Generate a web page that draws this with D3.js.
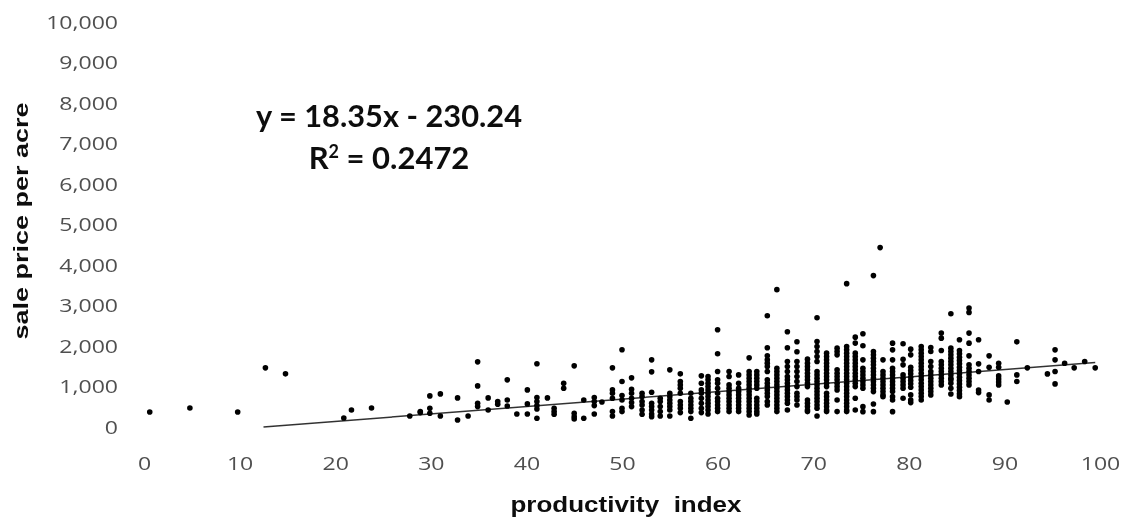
<!DOCTYPE html>
<html><head><meta charset="utf-8">
<script src="https://cdn.jsdelivr.net/npm/d3@7"></script>
<style>html,body{margin:0;padding:0;background:#fff}svg{display:block}</style>
</head><body><svg id="c" width="1130" height="519"></svg>
<script>
const xTicks=[0,10,20,30,40,50,60,70,80,90,100];
const yTicks=[0,1000,2000,3000,4000,5000,6000,7000,8000,9000,10000];
const trendX=[12.5,99.5];
const trendY=[0,1595];
const xTitle="productivity  index";
const yTitle="sale price per acre";
const eqLine1="y = 18.35x - 230.24";
const columnX=[0.6,4.8,9.8,12.7,14.8,20.9,21.7,23.8,27.8,28.9,29.9,31.0,32.8,33.9,34.9,36.0,37.0,38.0,39.0,40.1,41.1,42.2,42.9,43.9,45.0,46.0,47.1,47.9,49.0,50.0,51.0,52.1,53.1,54.0,55.0,56.1,57.2,58.3,59.0,60.0,61.2,62.2,63.3,64.1,65.2,66.2,67.3,68.3,69.4,70.4,71.4,72.5,73.5,74.4,75.2,76.3,77.0,77.3,78.3,79.4,80.2,81.3,82.3,83.4,84.4,85.3,86.3,87.3,88.4,89.4,90.3,91.3,92.4,94.5,95.3,96.3,97.3,98.4,99.5];
const columnValues=[
[371],[470],[371],[1460],[1312],[223],[421],[470],
[272],[355,380],[768,462,339],[817,272],[718,174],[272],[1609,1015,586,504],[718,421],[627,561],[1164,668,520],[322],[916,570,322],
[1560,726,627,528,446,215],[718],[462,380,314],[1081,957],[1510,339,256,198],[668,215],[726,627,528,322],[619],
[1460,916,834,710,380,272],[1906,1122,776,668,462,380],[1213,932,834,710,602,504],[834,751,627,545,421,314],
[1658,1362,858,586,504,421,322,256],[710,627,504,380,272],[1411,834,751,668,586,504,421,272],
[1312,1122,1040,957,834,627,545,462,355],[834,710,627,545,462,380,215],[1263,1081,916,834,710,586,462,355],
[1246,1164,1081,998,916,834,751,668,586,504,421,322],
[2401,1807,1370,1164,1081,957,834,710,627,545,462,380],
[1370,1246,1040,957,875,792,710,627,545,462,380],
[1287,1081,957,875,792,710,627,545,462,380],
[1708,1370,1287,1205,1122,1040,957,875,792,710,627,545,462,380,297],
[1370,1287,1205,1122,1040,957,710,627,545,462,380,322],
[2747,1956,1758,1658,1576,1494,1370,1164,1081,998,916,834,751,627,545],
[3391,1452,1370,1287,1205,1122,1040,957,875,792,710,627,545,462,380],
[2351,1956,1618,1494,1370,1246,1164,1081,998,916,834,751,668,586,421],
[2104,1857,1618,1494,1370,1246,1122,998,834,751,668,545],
[1675,1576,1494,1411,1329,1246,1164,1081,998,668,586,504,421,380],
[2698,2112,1988,1865,1741,1618,1370,1287,1205,1122,1040,957,875,792,710,627,545,462,272],
[1823,1741,1658,1576,1494,1411,1329,1246,1164,1081,998,834,751,668,586,504,421,380],
[1947,1865,1782,1411,1329,1246,1164,1081,998,916,668,380],
[3540,1988,1906,1823,1741,1658,1576,1494,1411,1329,1246,1164,1081,998,916,834,751,668,586,504,421,380],
[2219,2071,1823,1741,1658,1576,1494,1411,1329,1246,1164,1081,998,710,421],
[2302,2005,1658,1452,1370,1287,1205,1122,1040,957,503,379],
[3738,1865,1782,1700,1617,1535,1452,1370,1287,1205,1122,1040,957,874,569,379],
[4430],
[1658,1369,1287,1205,1122,1040,957,875,792,750],
[2070,1905,1658,1452,1370,1287,1205,1122,1040,957,875,750,668,379],
[2054,1674,1534,1287,1205,1122,1040,957,709],
[1922,1782,1477,1395,1312,1230,1147,1065,982,792,668,602],
[1988,1906,1823,1741,1658,1576,1494,1411,1329,1246,1164,1081,998,916,834,751,668],
[1963,1864,1617,1493,1369,1287,1205,1122,1040,957,875,792],
[2318,2194,1889,1617,1535,1452,1370,1287,1205,1122,1040],
[2796,1947,1865,1782,1700,1617,1535,1452,1370,1287,1205,1163,1080,957,816],
[2153,1889,1807,1724,1642,1559,1477,1394,1312,1229,1147,1064,982,899,817,750],
[2937,2830,2318,2070,1757,1534,1452,1370,1287,1205,1122,1040],
[2153,1559,1369,915,850],[1757,1477,792,668],[1575,1477,1262,1188,1113,1039],[618],[2103,1287,1122],[1460],[1311],
[1905,1658,1369,1064],[1575],[1460],[1617],[1460]
];

const svg=d3.select("#c");
const defs=svg.append("defs");
defs.append("filter").attr("id","soft").attr("x","0").attr("y","0").attr("width","100%").attr("height","100%")
  .append("feGaussianBlur").attr("stdDeviation",0.45);
const root=svg.append("g").attr("filter","url(#soft)");
const x=d3.scaleLinear().domain([0,100]).range([144,1100]);
const y=d3.scaleLinear().domain([0,10000]).range([427,22]);

const tickFont="'Open Sans',sans-serif";
const xAxis=root.append("g").attr("transform","translate(0,427)")
  .call(d3.axisBottom(x).tickValues(xTicks).tickSize(0).tickPadding(43).tickFormat(d3.format("d")));
const yAxis=root.append("g").attr("transform","translate(118,0)")
  .call(d3.axisLeft(y).tickValues(yTicks).tickSize(0).tickPadding(0).tickFormat(d3.format(",")));
[xAxis,yAxis].forEach(a=>{a.select(".domain").remove();
  a.selectAll("text").attr("font-family",tickFont).attr("font-size",18).attr("fill","#505050");});
yAxis.selectAll("text").attr("dy","0.36em").each(function(d){
  const t=d3.select(this);const w=this.getComputedTextLength();t.attr("textLength",w*1.28).attr("lengthAdjust","spacingAndGlyphs");});
xAxis.selectAll("text").attr("dy","0").each(function(d){
  const t=d3.select(this);const w=this.getComputedTextLength();t.attr("textLength",w*1.28).attr("lengthAdjust","spacingAndGlyphs");});

root.append("line").attr("x1",x(trendX[0])).attr("x2",x(trendX[1])).attr("y1",y(trendY[0])).attr("y2",y(trendY[1]))
  .attr("stroke","#333").attr("stroke-width",1.5);

const pts=columnX.flatMap((cx,i)=>columnValues[i].map(v=>[cx,v]));
root.append("g").selectAll("circle").data(pts).join("circle")
  .attr("cx",d=>x(d[0])).attr("cy",d=>y(d[1])).attr("r",2.8).attr("fill","#000");

root.append("text").attr("x",626).attr("y",512).attr("text-anchor","middle")
  .attr("font-family","'Liberation Sans',sans-serif").attr("font-weight","bold").attr("font-size",22)
  .attr("fill","#111").attr("textLength",231).attr("lengthAdjust","spacingAndGlyphs").style("white-space","pre").text(xTitle);
root.append("text").attr("transform","translate(28,221) rotate(-90)").attr("text-anchor","middle")
  .attr("font-family","'Liberation Sans',sans-serif").attr("font-weight","bold").attr("font-size",21)
  .attr("fill","#111").attr("textLength",237).attr("lengthAdjust","spacingAndGlyphs").text(yTitle);

root.append("text").attr("x",389).attr("y",127).attr("text-anchor","middle")
  .attr("font-family","Lato,sans-serif").attr("font-weight","bold").attr("font-size",30)
  .attr("fill","#111").attr("textLength",266).attr("lengthAdjust","spacingAndGlyphs").text(eqLine1);
const r2=root.append("text").attr("x",389).attr("y",168.5).attr("text-anchor","middle")
  .attr("font-family","Lato,sans-serif").attr("font-weight","bold").attr("font-size",31).attr("fill","#111");
r2.append("tspan").text("R");
r2.append("tspan").attr("font-size",18).attr("dy",-11).text("2");
r2.append("tspan").attr("dy",11).text(" = 0.2472");
</script></body></html>
